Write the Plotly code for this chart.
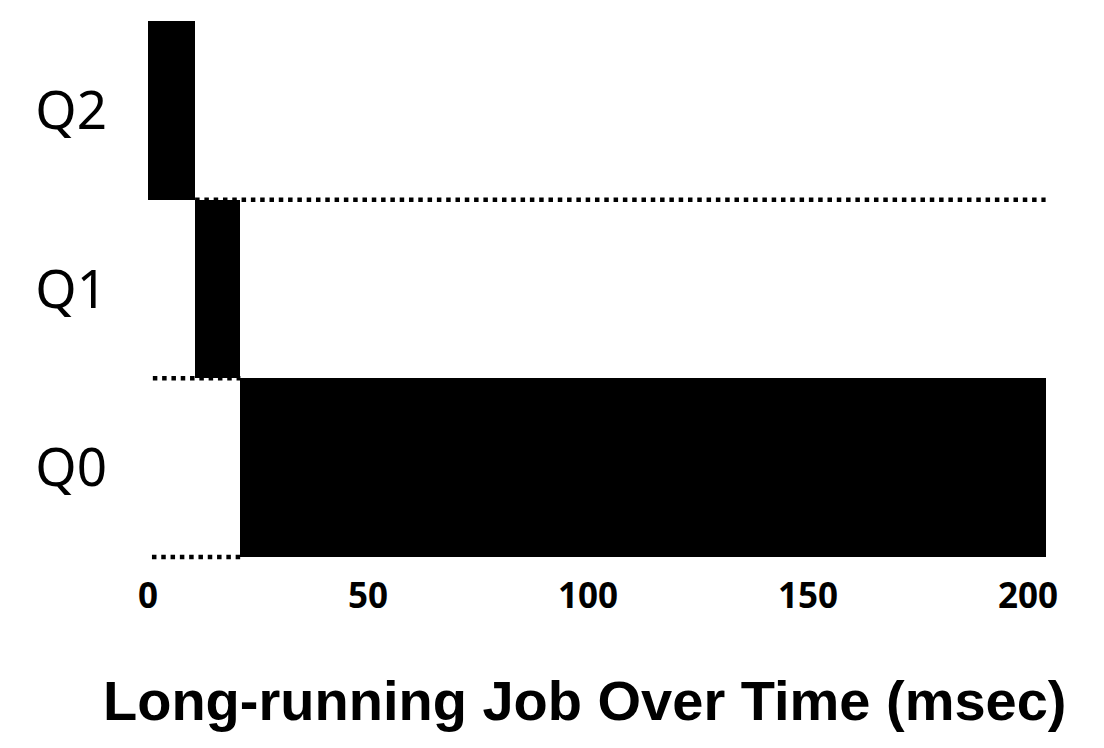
import plotly.graph_objects as go

# Data
queues = ["Q0", "Q1", "Q2"]
starts = [21, 10.7, 0]        # msec
ends = [204, 21, 10.7]        # msec
x_ticks = [0, 50, 100, 150, 200]

# dotted separators: (y boundary, x start, x end)
sep_y = [1.5, 0.5, -0.5]
sep_x0 = [10.7, 1.1, 0.9]
sep_x1 = [204, 21, 21]

widths = [e - s for s, e in zip(starts, ends)]

fig = go.Figure()
fig.add_trace(go.Bar(
    y=queues, x=widths, base=starts, orientation="h",
    width=1.0, marker=dict(color="black", line=dict(width=0)),
    showlegend=False, hoverinfo="skip",
))

for yv, a, b in zip(sep_y, sep_x0, sep_x1):
    fig.add_shape(type="line", xref="x", yref="y", x0=a, x1=b, y0=yv, y1=yv,
                  line=dict(color="black", width=4.5, dash="4.5px,4.8px"), layer="above")

fig.update_layout(
    width=1104, height=748,
    margin=dict(l=140, r=40, t=13, b=195),
    plot_bgcolor="white", paper_bgcolor="white",
    bargap=0,
    xaxis=dict(range=[0, 210], tickvals=x_ticks, ticktext=[str(v) for v in x_ticks],
               showgrid=False, zeroline=False, showline=False, ticks="",
               ticklabelstandoff=11,
               tickfont=dict(family="Noto Sans", size=35, color="black", weight="bold")),
    yaxis=dict(categoryorder="array", categoryarray=queues, range=[-0.5224, 2.5],
               showgrid=False, zeroline=False, showline=False, ticks="",
               ticklabelstandoff=40,
               tickfont=dict(family="Noto Sans", size=53, color="black")),
    annotations=[dict(
        text="<b>Long-running Job Over Time (msec)</b>",
        xref="paper", yref="paper", x=(585 - 148) / 924, y=(561 - 700) / 540,
        xanchor="center", yanchor="middle", showarrow=False,
        font=dict(family="Liberation Sans", size=56, color="black"),
    )],
)

fig.write_html("out.html")
